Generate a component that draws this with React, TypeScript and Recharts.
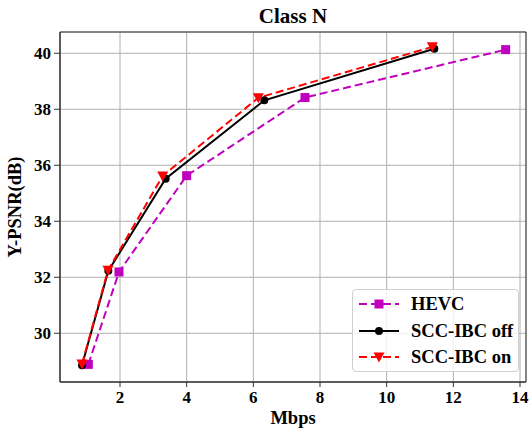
import React from 'react';
import { LineChart, Line, XAxis, YAxis, CartesianGrid, ReferenceArea } from 'recharts';

const hevcRate = [1.05, 1.97, 4.0, 7.55, 13.57];
const hevcPsnr = [28.89, 32.19, 35.63, 38.42, 40.13];
const offRate = [0.86, 1.65, 3.37, 6.33, 11.43];
const offPsnr = [28.86, 32.23, 35.52, 38.32, 40.16];
const onRate = [0.86, 1.64, 3.28, 6.15, 11.37];
const onPsnr = [28.9, 32.25, 35.62, 38.41, 40.23];

const xTicks = [2, 4, 6, 8, 10, 12, 14];
const yTicks = [30, 32, 34, 36, 38, 40];

const seriesNames = ['HEVC', 'SCC-IBC off', 'SCC-IBC on'];
const seriesColors = ['#BF00BF', '#000000', '#FF0000'];

const toPoints = (xs: number[], ys: number[]) => xs.map((x, i) => ({ x, y: ys[i] }));

const hevcData = toPoints(hevcRate, hevcPsnr);
const offData = toPoints(offRate, offPsnr);
const onData = toPoints(onRate, onPsnr);

const FONT = '"Liberation Serif", "DejaVu Serif", serif';

const SquareDot = (p: any) => (
  <rect key={p.index} x={p.cx - 4.5} y={p.cy - 4.5} width={9} height={9} fill={seriesColors[0]} />
);
const CircleDot = (p: any) => <circle key={p.index} cx={p.cx} cy={p.cy} r={4} fill={seriesColors[1]} />;
const TriDot = (p: any) => (
  <polygon
    key={p.index}
    points={`${p.cx - 5.5},${p.cy - 4.5} ${p.cx + 5.5},${p.cy - 4.5} ${p.cx},${p.cy + 5.5}`}
    fill={seriesColors[2]}
  />
);

const LegendBox = () => {
  const markers = [
    (cx: number, cy: number) => <rect x={cx - 4.5} y={cy - 4.5} width={9} height={9} fill={seriesColors[0]} />,
    (cx: number, cy: number) => <circle cx={cx} cy={cy} r={4} fill={seriesColors[1]} />,
    (cx: number, cy: number) => (
      <polygon points={`${cx - 5.5},${cy - 4.5} ${cx + 5.5},${cy - 4.5} ${cx},${cy + 5.5}`} fill={seriesColors[2]} />
    ),
  ];
  const dashes = ['8 4', undefined, '8 4'];
  return (
    <div
      style={{
        position: 'absolute',
        left: 352,
        top: 289,
        width: 167,
        height: 83,
        border: '1px solid #d0d0d0',
        borderRadius: 4,
        background: 'rgba(255,255,255,0.8)',
        boxSizing: 'border-box',
      }}
    >
      {seriesNames.map((name, i) => (
        <div key={name} style={{ position: 'absolute', left: 0, top: 1 + i * 26.5, height: 26, width: 167 }}>
          <svg width={50} height={26} style={{ position: 'absolute', left: 4, top: 0 }}>
            <line x1={2} x2={42} y1={13} y2={13} stroke={seriesColors[i]} strokeWidth={2} strokeDasharray={dashes[i]} />
            {markers[i](22, 13)}
          </svg>
          <span
            style={{
              position: 'absolute',
              left: 58,
              top: 2,
              fontFamily: FONT,
              fontWeight: 'bold',
              fontSize: 18.5,
              lineHeight: '22px',
              color: '#000',
              whiteSpace: 'nowrap',
            }}
          >
            {name}
          </span>
        </div>
      ))}
    </div>
  );
};

const tickStyle = { fontFamily: FONT, fontWeight: 'bold', fontSize: 17, fill: '#000' };

export default function App() {
  return (
    <div style={{ position: 'absolute', left: 0, top: 0, width: 531, height: 432, background: '#fff' }}>
      <div
        style={{
          position: 'absolute',
          left: 60,
          width: 466,
          top: 4,
          textAlign: 'center',
          fontFamily: FONT,
          fontWeight: 'bold',
          fontSize: 21,
          lineHeight: '24px',
        }}
      >
        Class N
      </div>
      <LineChart width={531} height={432} margin={{ top: 32, right: 5, bottom: 0, left: 0 }}>
        <CartesianGrid stroke="#b0b0b0" strokeWidth={1} />
        <XAxis
          type="number"
          dataKey="x"
          domain={[0.2, 14.18]}
          ticks={xTicks}
          allowDataOverflow
          height={50}
          tick={tickStyle}
          tickSize={5}
          tickMargin={4}
          stroke="#333"
          label={{ value: 'Mbps', position: 'insideBottom', offset: 8, style: { ...tickStyle, fontSize: 18.5 } }}
        />
        <YAxis
          type="number"
          dataKey="y"
          domain={[28.26, 40.76]}
          ticks={yTicks}
          allowDataOverflow
          width={60}
          tick={tickStyle}
          tickSize={6}
          tickMargin={3}
          stroke="#333"
          label={{
            value: 'Y-PSNR(dB)',
            angle: -90,
            position: 'insideLeft',
            offset: 14,
            style: { ...tickStyle, fontSize: 18.5, textAnchor: 'middle' },
          }}
        />
        <ReferenceArea x1={0.2} x2={14.18} y1={28.26} y2={40.76} fill="none" stroke="#333" strokeWidth={1} />
        <Line
          data={hevcData}
          dataKey="y"
          name={seriesNames[0]}
          stroke={seriesColors[0]}
          strokeWidth={2}
          strokeDasharray="8 4"
          dot={SquareDot}
          isAnimationActive={false}
        />
        <Line
          data={offData}
          dataKey="y"
          name={seriesNames[1]}
          stroke={seriesColors[1]}
          strokeWidth={2}
          dot={CircleDot}
          isAnimationActive={false}
        />
        <Line
          data={onData}
          dataKey="y"
          name={seriesNames[2]}
          stroke={seriesColors[2]}
          strokeWidth={2}
          strokeDasharray="8 4"
          dot={TriDot}
          isAnimationActive={false}
        />
      </LineChart>
      <LegendBox />
    </div>
  );
}
